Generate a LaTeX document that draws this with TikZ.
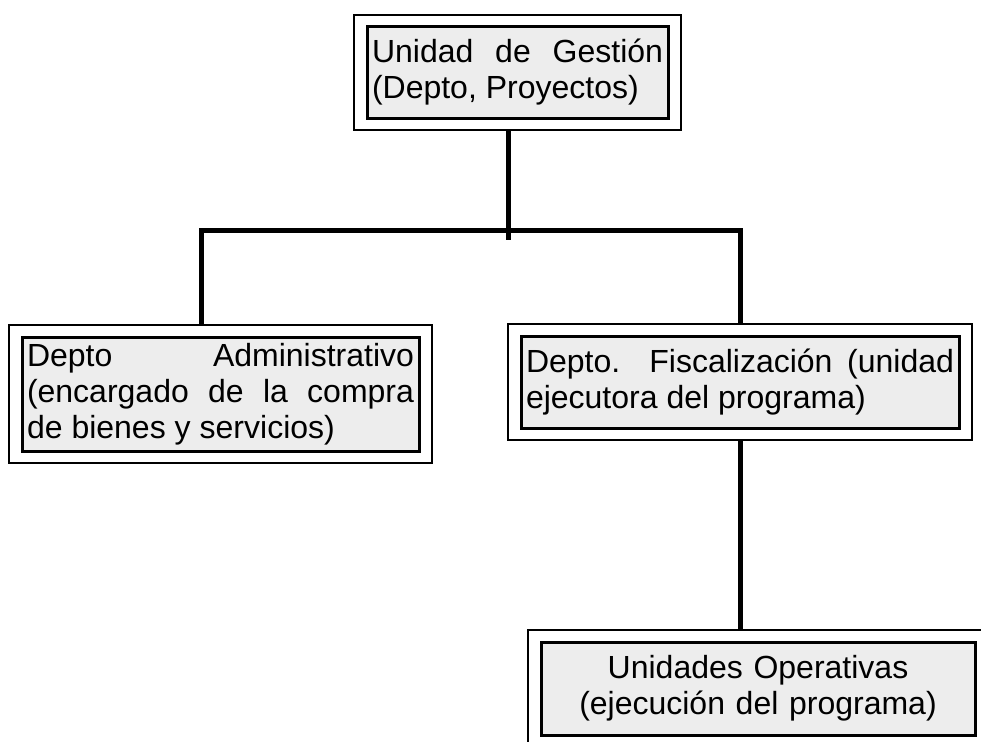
\documentclass[tikz,border=0pt]{standalone}
\usepackage{fontspec}
\setmainfont{Liberation Sans}
\usetikzlibrary{fit}
\newcommand\unitfont{\fontsize{32}{36}\selectfont
  \tolerance=10000 \hyphenpenalty=10000
  \spaceskip=.28em plus 2em minus .05em\relax}
\begin{document}
\begin{tikzpicture}[x=1pt,y=-1pt,line join=miter,
  unitbox/.style={draw,line width=3pt,fill=gray!14,anchor=north west,outer sep=0pt,
    inner xsep=5pt,inner ysep=2pt,align=justify,font=\unitfont},
  outerbox/.style={draw,line width=2pt,outer sep=0pt,inner xsep=13pt,inner ysep=12pt},
  link/.style={line width=5pt}]
  \path[use as bounding box,clip] (0,0) rectangle (981,741);
  \fill[white] (0,0) rectangle (981,741);
  % inner boxes
  \node[unitbox,text width=291pt,minimum height=91pt] (gestion) at (367,27)
    {Unidad de Gestión\linebreak (Depto, Proyectos)};
  \node[unitbox,text width=387pt,minimum height=114pt] (admin) at (22,337)
    {Depto Administrativo\linebreak (encargado de la compra\linebreak de bienes y servicios)};
  \node[unitbox,text width=428pt,minimum height=92pt] (fisc) at (521,336)
    {Depto. Fiscalización (unidad\linebreak ejecutora del programa)};
  \node[unitbox,text width=424pt,minimum height=93pt,align=center] (unid) at (541,642)
    {Unidades Operativas\\(ejecución del programa)};
  % outer frames
  \foreach \n in {gestion,admin,fisc,unid}{
    \node[outerbox,fit=(\n)] (\n-out) {};
  }
  % connectors
  \coordinate (bus) at (508,230);
  \coordinate (busL) at (201,230);
  \draw[link] (gestion-out.south -| bus) -- ([yshift=-10pt]bus);
  \draw[link] (admin-out.north -| busL) -- (busL) -- (busL -| fisc-out.north) -- (fisc-out.north);
  \draw[link] (fisc-out.south) -- (fisc-out.south |- unid-out.north);
\end{tikzpicture}
\end{document}
